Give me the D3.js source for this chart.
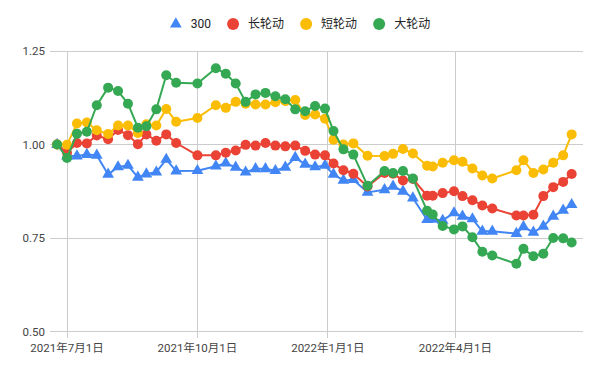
<!DOCTYPE html>
<html><head><meta charset="utf-8">
<script src="https://cdn.jsdelivr.net/npm/d3@7"></script>
<style>body{margin:0;background:#fff;}svg{display:block;font-family:Roboto,"Noto Sans CJK SC",sans-serif;}</style>
</head><body><div id="chart"></div>
<script>
const dates = ["2021-06-24","2021-07-01","2021-07-08","2021-07-15","2021-07-22","2021-07-30","2021-08-06","2021-08-13","2021-08-20","2021-08-26",
"2021-09-02","2021-09-09","2021-09-16","2021-10-01","2021-10-14","2021-10-21","2021-10-28","2021-11-04","2021-11-11","2021-11-18",
"2021-11-25","2021-12-02","2021-12-09","2021-12-16","2021-12-23","2021-12-30","2022-01-05","2022-01-12","2022-01-19","2022-01-29",
"2022-02-10","2022-02-16","2022-02-23","2022-03-02","2022-03-12","2022-03-16","2022-03-23","2022-03-31","2022-04-06","2022-04-13",
"2022-04-20","2022-04-27","2022-05-14","2022-05-19","2022-05-26","2022-06-02","2022-06-09","2022-06-16","2022-06-22"];
const s300 = [1.000,0.969,0.969,0.973,0.971,0.920,0.940,0.944,0.912,0.921,0.926,0.960,0.929,0.930,0.942,0.950,0.939,0.926,0.935,0.935,
0.930,0.939,0.965,0.947,0.940,0.944,0.920,0.904,0.906,0.872,0.879,0.888,0.875,0.857,0.799,0.800,0.797,0.817,0.808,0.801,
0.768,0.768,0.762,0.780,0.765,0.781,0.808,0.824,0.839];
const sLong = [1.000,0.978,1.004,1.003,1.024,1.014,1.039,1.025,1.001,1.027,1.010,1.027,1.004,0.971,0.971,0.978,0.984,0.999,0.997,1.004,
0.997,0.995,0.997,0.983,0.973,0.971,0.949,0.931,0.922,0.888,0.924,0.922,0.904,0.908,0.863,0.863,0.870,0.875,0.862,0.851,
0.837,0.829,0.810,0.810,0.812,0.862,0.886,0.900,0.921];
const sShort = [1.000,0.999,1.056,1.059,1.038,1.028,1.051,1.051,1.031,1.054,1.051,1.095,1.061,1.071,1.105,1.098,1.114,1.109,1.107,1.107,
1.113,1.116,1.119,1.079,1.080,1.069,1.013,1.000,1.003,0.970,0.969,0.975,0.988,0.976,0.943,0.941,0.951,0.958,0.954,0.936,
0.917,0.909,0.931,0.958,0.924,0.933,0.951,0.971,1.027];
const sBig = [1.000,0.964,1.029,1.034,1.105,1.152,1.143,1.109,1.045,1.049,1.094,1.185,1.165,1.163,1.204,1.189,1.163,1.114,1.134,1.138,
1.129,1.121,1.094,1.089,1.103,1.096,1.036,0.987,0.973,0.890,0.929,0.924,0.929,0.909,0.823,0.813,0.782,0.773,0.781,0.752,
0.713,0.703,0.681,0.721,0.701,0.708,0.750,0.749,0.738];
const seriesNames = ["300","长轮动","短轮动","大轮动"];
const seriesColors = ["#4285F4","#EA4335","#FBBC04","#34A853"];
const xTickLabels = ["2021-07-01","2021-10-01","2022-01-01","2022-04-01"];
const yTicks = [0.50,0.75,1.00,1.25];
const xDomain = ["2021-06-19","2022-06-30"];

const W = 600, H = 371;
const margin = {left:50, right:17, top:51, bottom:39.5};
const parse = d3.timeParse("%Y-%m-%d");
const svg = d3.select("#chart").append("svg").attr("width",W).attr("height",H);

const x = d3.scaleTime().domain(xDomain.map(parse)).range([margin.left, W-margin.right]);
const y = d3.scaleLinear().domain([0.5,1.25]).range([H-margin.bottom, margin.top]);

// horizontal grid
svg.append("g").selectAll("line").data(yTicks).join("line")
  .attr("x1",margin.left).attr("x2",W-margin.right)
  .attr("y1",d=>y(d)).attr("y2",d=>y(d))
  .attr("stroke","#cccccc").attr("stroke-width",1).attr("shape-rendering","crispEdges");
// vertical grid
const xt = xTickLabels.map(parse);
svg.append("g").selectAll("line").data(xt).join("line")
  .attr("x1",d=>x(d)).attr("x2",d=>x(d))
  .attr("y1",margin.top).attr("y2",H-margin.bottom+6)
  .attr("stroke","#cccccc").attr("stroke-width",1).attr("shape-rendering","crispEdges");

// y labels
svg.append("g").selectAll("text").data(yTicks).join("text")
  .attr("x",margin.left-5).attr("y",d=>y(d)).attr("dy","0.35em")
  .attr("text-anchor","end").attr("font-size",11.5).attr("fill","#444")
  .text(d=>d3.format(".2f")(d));
// x labels
const fmt = d3.timeFormat("%Y年%-m月%-d日");
svg.append("g").selectAll("text").data(xt).join("text")
  .attr("x",d=>x(d)).attr("y",H-margin.bottom+20)
  .attr("text-anchor","middle").attr("font-size",11.5).attr("fill","#444")
  .text(d=>fmt(d));

const allSeries = [s300,sLong,sShort,sBig];
const pd = dates.map(parse);
const line = d3.line().x((d,i)=>x(pd[i])).y(d=>y(d));
allSeries.forEach((vals,si)=>{
  const g = svg.append("g");
  g.append("path").datum(vals).attr("d",line).attr("fill","none")
    .attr("stroke",seriesColors[si]).attr("stroke-width",2).attr("stroke-linejoin","round");
  if(si===0){
    g.selectAll("path.m").data(vals).join("path").attr("class","m")
      .attr("d",d3.symbol(d3.symbolTriangle,60)())
      .attr("transform",(d,i)=>`translate(${x(pd[i])},${y(d)})`)
      .attr("fill",seriesColors[si]);
  } else {
    g.selectAll("circle").data(vals).join("circle")
      .attr("cx",(d,i)=>x(pd[i])).attr("cy",d=>y(d)).attr("r",5)
      .attr("fill",seriesColors[si]);
  }
});

// legend
const lg = svg.append("g");
let cx = 0;
const items = [];
seriesNames.forEach((n,i)=>{
  const it = lg.append("g");
  if(i===0) it.append("path").attr("d",d3.symbol(d3.symbolTriangle,60)()).attr("fill",seriesColors[i]);
  else it.append("circle").attr("r",6).attr("fill",seriesColors[i]);
  const t = it.append("text").attr("x",15).attr("dy","0.35em").attr("font-size",12).attr("fill","#222").text(n);
  const w = t.node().getComputedTextLength();
  items.push({it, start:cx});
  cx += 15 + w + 22;
});
const total = cx - 22 + 6;
const x0 = 300 - total/2 + 6;
items.forEach(o=>o.it.attr("transform",`translate(${x0+o.start},24)`));
</script></body></html>
